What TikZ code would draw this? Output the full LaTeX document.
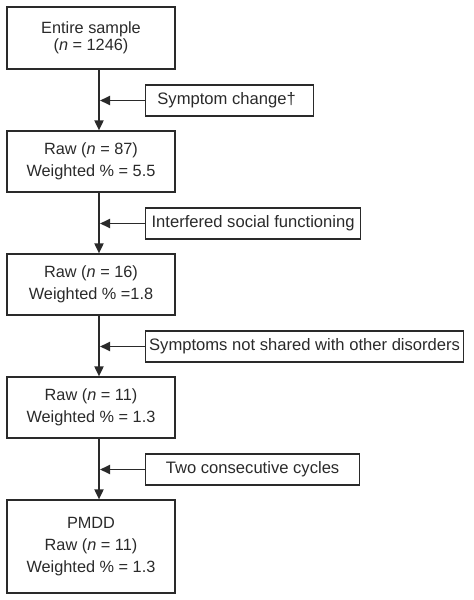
\documentclass[tikz,border=0pt]{standalone}
\usepackage{fontspec}
\setmainfont{Liberation Sans}
\usetikzlibrary{arrows.meta}
\definecolor{ink}{HTML}{2A2A2A}
\tikzset{
  mainbox/.style={draw=ink, line width=1.2pt, minimum width=168pt, align=center, inner sep=0pt, font=\fontsize{16.3}{22}\selectfont, text=ink},
  sidebox/.style={draw=ink, line width=1.2pt, minimum height=31pt, anchor=west, align=center, inner sep=0pt, font=\fontsize{16.6}{19}\selectfont, text=ink},
  flow/.style={draw=ink, line width=1.8pt, -{Triangle[width=9pt,length=10pt]}},
}
\begin{document}
\begin{tikzpicture}[x=1pt,y=-1pt]
\useasboundingbox (0,0) rectangle (474,600);
\node[mainbox, minimum height=62pt, font=\fontsize{16.3}{17}\selectfont] (b1) at (91,38) {Entire sample\\(\textit{n} = 1246)};
\node[mainbox, minimum height=61pt] (b2) at (91,161.5) {Raw (\textit{n} = 87)\\Weighted \% = 5.5};
\node[mainbox, minimum height=61pt] (b3) at (91,284.5) {Raw (\textit{n} = 16)\\Weighted \% =1.8};
\node[mainbox, minimum height=61pt] (b4) at (91,407.5) {Raw (\textit{n} = 11)\\Weighted \% = 1.3};
\node[mainbox, minimum height=93pt] (b5) at (91,546.5) {PMDD\\Raw (\textit{n} = 11)\\Weighted \% = 1.3};

\node[sidebox, minimum width=168pt] (s1) at (145,100.5) {Symptom change†\hspace{6pt}};
\node[sidebox, minimum width=215pt] (s2) at (145,223.5) {Interfered social functioning};
\node[sidebox, minimum width=318pt] (s3) at (145,346.5) {Symptoms not shared with other disorders};
\node[sidebox, minimum width=214pt] (s4) at (145,469.5) {Two consecutive cycles};

\coordinate (j1) at (99,100.5);
\coordinate (j2) at (99,223.5);
\coordinate (j3) at (99,346.5);
\coordinate (j4) at (99,469.5);

\draw[flow] (b1.south -| j1) -- (b2.north -| j1);
\draw[flow] (b2.south -| j2) -- (b3.north -| j2);
\draw[flow] (b3.south -| j3) -- (b4.north -| j3);
\draw[flow] (b4.south -| j4) -- (b5.north -| j4);

\draw[flow] (s1.west) -- ([xshift=1pt]j1);
\draw[flow] (s2.west) -- ([xshift=1pt]j2);
\draw[flow] (s3.west) -- ([xshift=1pt]j3);
\draw[flow] (s4.west) -- ([xshift=1pt]j4);
\end{tikzpicture}
\end{document}
